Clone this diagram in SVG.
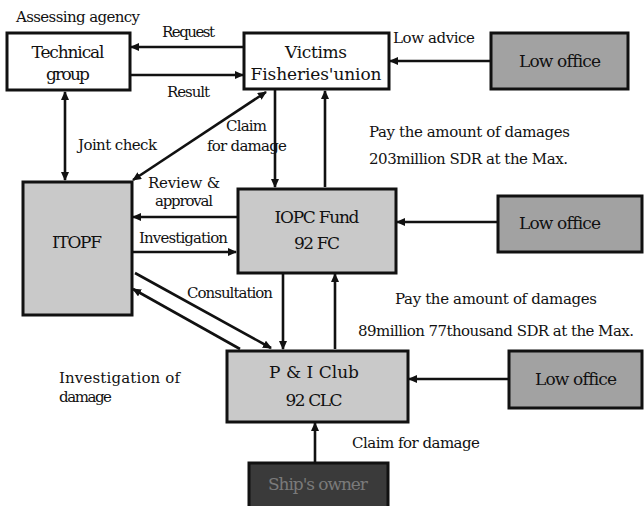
<svg xmlns="http://www.w3.org/2000/svg" width="644" height="506" viewBox="0 0 644 506">
<style>
text{font-family:"DejaVu Serif","Liberation Serif",serif;font-size:15px;fill:#111}
.c{text-anchor:middle}
.n{font-size:17px}
.box{stroke:#111;stroke-width:3}
.white{fill:#fff}
.light{fill:#c9c9c9}
.mid{fill:#a2a2a2}
.dark{fill:#3a3a3a}
.ln{stroke:#111;stroke-width:2.6;fill:none}
.ar{marker-end:url(#ah)}
.ab{marker-start:url(#as);marker-end:url(#ah)}
</style>
<defs>
<marker id="ah" markerWidth="9" markerHeight="8" refX="8" refY="4" orient="auto" markerUnits="userSpaceOnUse">
<path d="M0,0 L9,4 L0,8 Z" fill="#111"/>
</marker>
<marker id="as" markerWidth="9" markerHeight="8" refX="1" refY="4" orient="auto" markerUnits="userSpaceOnUse">
<path d="M9,0 L0,4 L9,8 Z" fill="#111"/>
</marker>
</defs>

<g id="connectors">
<line class="ln ar" x1="243" y1="47" x2="131" y2="47"/>
<line class="ln ar" x1="131" y1="75" x2="243" y2="75"/>
<line class="ln ar" x1="490" y1="61" x2="390" y2="61"/>
<line class="ln ab" x1="65" y1="92" x2="65" y2="180"/>
<line class="ln ab" x1="133" y1="180" x2="266" y2="92"/>
<line class="ln ar" x1="275" y1="90" x2="275" y2="187"/>
<line class="ln ar" x1="325" y1="187" x2="325" y2="91"/>
<line class="ln ar" x1="237" y1="217" x2="133" y2="217"/>
<line class="ln ar" x1="133" y1="252" x2="236" y2="252"/>
<line class="ln ar" x1="497" y1="222" x2="397" y2="222"/>
<line class="ln ar" x1="135" y1="273" x2="271" y2="348"/>
<line class="ln ar" x1="240" y1="349" x2="133" y2="289"/>
<line class="ln ar" x1="283" y1="274" x2="283" y2="349"/>
<line class="ln ar" x1="335" y1="349" x2="335" y2="274"/>
<line class="ln ar" x1="508" y1="379" x2="409" y2="379"/>
<line class="ln ar" x1="315" y1="462" x2="315" y2="423"/>
</g>

<g id="labels">
<text x="16" y="22" textLength="124">Assessing agency</text>
<text x="162" y="37" textLength="53">Request</text>
<text x="167" y="97" textLength="43">Result</text>
<text x="393" y="43" textLength="82">Low advice</text>
<text x="78" y="150" textLength="79">Joint check</text>
<text x="226" y="131" textLength="41">Claim</text>
<text x="207" y="151" textLength="80">for damage</text>
<text x="369" y="137" textLength="201">Pay the amount of damages</text>
<text x="369" y="164" textLength="199">203million SDR at the Max.</text>
<text x="148" y="188" textLength="72">Review &amp;</text>
<text x="155" y="206" textLength="58">approval</text>
<text x="139" y="243" textLength="89">Investigation</text>
<text x="187" y="298" textLength="86">Consultation</text>
<text x="395" y="304" textLength="202">Pay the amount of damages</text>
<text x="358" y="336" textLength="276">89million 77thousand SDR at the Max.</text>
<text x="59" y="383" textLength="121">Investigation   of</text>
<text x="59" y="402" textLength="53">damage</text>
<text x="352" y="448" textLength="128">Claim for damage</text>
</g>

<g id="technical-group">
<rect class="box white" x="7" y="33" width="123" height="57"/>
<text class="c n" x="68" y="58" textLength="73">Technical</text>
<text class="c n" x="68" y="80" textLength="44">group</text>
</g>

<g id="victims">
<rect class="box white" x="244" y="33" width="145" height="56"/>
<text class="c n" x="316" y="58" textLength="62">Victims</text>
<text class="c n" x="316" y="80" textLength="131">Fisheries'union</text>
</g>

<g id="low-office-1">
<rect class="box mid" x="491" y="33" width="137" height="56"/>
<text class="c n" x="560" y="67" textLength="82">Low office</text>
</g>

<g id="itopf">
<rect class="box light" x="23" y="182" width="109" height="133"/>
<text class="c n" x="77" y="248" textLength="50">ITOPF</text>
</g>

<g id="iopc-fund">
<rect class="box light" x="238" y="189" width="158" height="84"/>
<text class="c n" x="317" y="223" textLength="85">IOPC Fund</text>
<text class="c n" x="317" y="249" textLength="46">92 FC</text>
</g>

<g id="low-office-2">
<rect class="box mid" x="498" y="196" width="144" height="56"/>
<text class="c n" x="560" y="229" textLength="82">Low office</text>
</g>

<g id="pi-club">
<rect class="box light" x="227" y="351" width="181" height="71"/>
<text class="c n" x="314" y="378" textLength="90">P &amp; I Club</text>
<text class="c n" x="314" y="406" textLength="57">92 CLC</text>
</g>

<g id="low-office-3">
<rect class="box mid" x="509" y="351" width="133" height="57"/>
<text class="c n" x="576" y="385" textLength="82">Low office</text>
</g>

<g id="ships-owner">
<rect class="box dark" x="249" y="463" width="139" height="45"/>
<text class="c n" x="318" y="490" style="fill:#7a7a7a" textLength="100">Ship's owner</text>
</g>
</svg>
